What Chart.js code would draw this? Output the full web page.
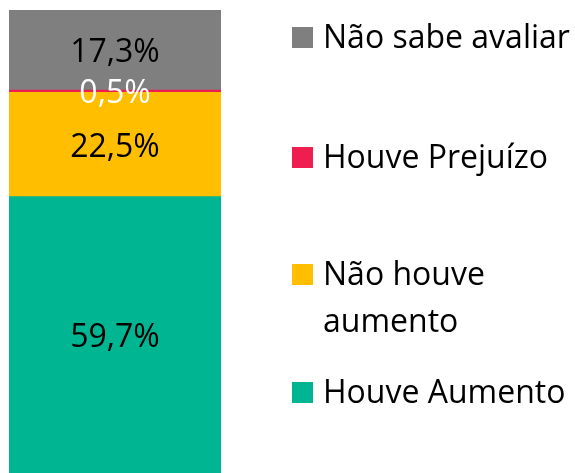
<!DOCTYPE html>
<html>
<head>
<meta charset="utf-8">
<script src="https://cdn.jsdelivr.net/npm/chart.js@4.4.0/dist/chart.umd.min.js"></script>
<style>
    html, body { margin: 0; padding: 0; background: #fff; }
    #wrap { width: 575px; height: 473px; }
</style>
</head>
<body>
<div id="wrap"><canvas id="graph" width="575" height="473"></canvas></div>
<script>
const categories = [''];
const seriesLabels = ['Houve Aumento', 'Não houve aumento', 'Houve Prejuízo', 'Não sabe avaliar'];
const legendLines = [['Houve Aumento'], ['Não houve', 'aumento'], ['Houve Prejuízo'], ['Não sabe avaliar']];
const seriesValues = [59.7, 22.5, 0.5, 17.3];
const seriesColors = ['#00b592', '#ffbe00', '#ee1f4f', '#7f7f7f'];
const labelColors = ['#000', '#000', '#fff', '#000'];

const fontFamily = '"Open Sans", "Noto Sans", sans-serif';

function fmt(v) {
    return v.toFixed(1).replace('.', ',') + '%';
}

// value text in the middle of each segment
const valueLabels = {
    id: 'valueLabels',
    afterDatasetsDraw(chart) {
        const c = chart.ctx;
        c.save();
        c.font = '32px ' + fontFamily;
        c.textAlign = 'center';
        c.textBaseline = 'alphabetic';
        chart.data.datasets.forEach((ds, i) => {
            const meta = chart.getDatasetMeta(i);
            meta.data.forEach((bar, j) => {
                const mid = (bar.y + bar.base) / 2;
                c.fillStyle = labelColors[i];
                c.fillText(fmt(ds.data[j]), bar.x, mid + 12);
            });
        });
        c.restore();
    }
};

// legend on the right, top item is the last series
const sideLegend = {
    id: 'sideLegend',
    afterDraw(chart, args, opts) {
        const c = chart.ctx;
        c.save();
        c.font = '32px ' + fontFamily;
        c.textBaseline = 'alphabetic';
        const n = seriesLabels.length;
        for (let k = 0; k < n; k++) {
            const i = n - 1 - k;
            const top = opts.tops[k];
            c.fillStyle = seriesColors[i];
            c.fillRect(opts.x, top, 21, 21);
            c.fillStyle = '#000';
            legendLines[i].forEach((line, li) => {
                c.fillText(line, opts.x + 31, top + 21 + li * 47);
            });
        }
        c.restore();
    }
};

new Chart(document.getElementById('graph').getContext('2d'), {
    type: 'bar',
    data: {
        labels: categories,
        datasets: seriesLabels.map((label, i) => ({
            label: label,
            data: [seriesValues[i]],
            backgroundColor: seriesColors[i],
            borderWidth: 0,
            barPercentage: 1,
            categoryPercentage: 1
        }))
    },
    options: {
        responsive: false,
        animation: false,
        layout: {
            padding: { left: 9, right: 354, top: 10, bottom: 0 }
        },
        scales: {
            x: { stacked: true, display: false },
            y: { stacked: true, display: false, min: 0, max: 100 }
        },
        plugins: {
            legend: { display: false },
            tooltip: { enabled: false },
            sideLegend: { x: 292, tops: [27, 147, 264, 382] }
        }
    },
    plugins: [valueLabels, sideLegend]
});
</script>
</body>
</html>
